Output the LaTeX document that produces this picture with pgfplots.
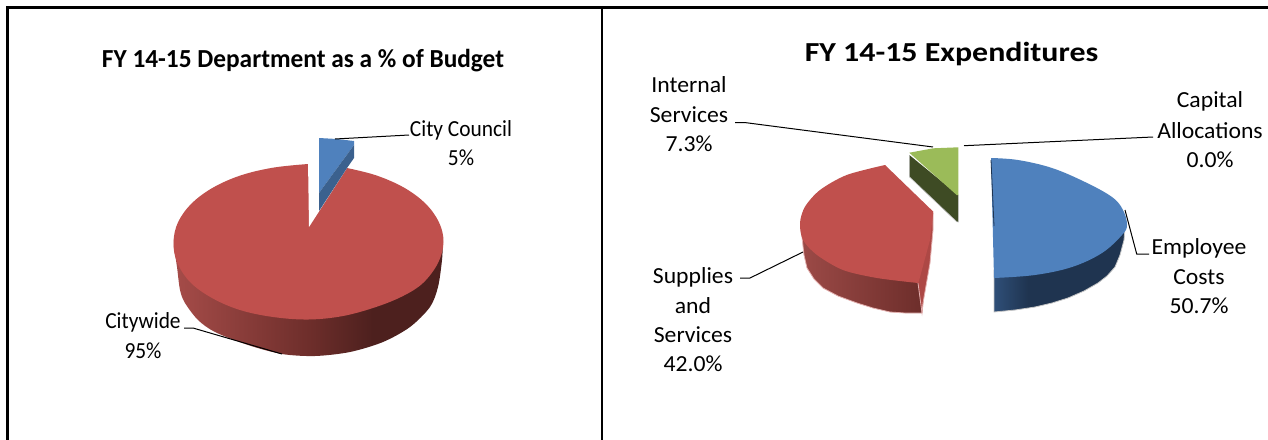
\documentclass[border=0pt]{standalone}
\usepackage{fontspec}
\setmainfont{Carlito}
\newfontfamily\wide[FakeStretch=1.03]{Carlito}
\newfontfamily\narrow[FakeStretch=0.93]{Carlito}
\newfontfamily\titleL[FakeStretch=0.975]{Carlito}
\newfontfamily\titleR[FakeStretch=1.16]{Carlito}
\usepackage{pgfplots}
\pgfplotsset{compat=1.18}
\definecolor{pred}{HTML}{C0504D}
\definecolor{pblue}{HTML}{4F81BD}
\definecolor{pgreen}{HTML}{9BBB59}
\definecolor{ra}{HTML}{A64C49}
\definecolor{rb}{HTML}{6E2E2B}
\definecolor{rc}{HTML}{4D201E}
\definecolor{rd}{HTML}{9C4A47}
\definecolor{re}{HTML}{6C2D2A}
\definecolor{ba}{HTML}{2F4F78}
\definecolor{bb}{HTML}{1F3450}
\pgfdeclarehorizontalshading{redside}{100bp}{color(0bp)=(ra); color(25bp)=(ra); color(50bp)=(rb); color(62bp)=(rc); color(100bp)=(rc)}
\pgfdeclarehorizontalshading{blueside}{100bp}{color(0bp)=(ba); color(25bp)=(ba); color(38bp)=(bb); color(100bp)=(bb)}
\tikzset{lbl/.style={anchor=base,inner sep=0pt,font=\fontsize{23}{28}\selectfont}}
\begin{document}
\begin{tikzpicture}[x=1pt,y=1pt]
\useasboundingbox (0,0) rectangle (1268,439);
\begin{axis}[at={(0,0)},anchor=south west,scale only axis,width=1268pt,height=439pt,
  xmin=0,xmax=1268,ymin=0,ymax=439,y dir=reverse,hide axis,clip=false,
  every axis plot/.append style={forget plot,no markers}]
% frame
\addplot[black,line width=2.2pt] coordinates {(7.5,445) (7.5,7.5) (1275,7.5)};
\addplot[black,line width=1.6pt] coordinates {(602,7.5) (602,445)};
% ---- left pie: side
\addplot[draw=none,smooth,shade,shading=redside] coordinates {
 (174,240) (174,247) (177,267) (180,290) (185,303) (198,320) (215,332) (248,345) (282,354) (315,356) (350,352) (383,342) (410,327) (430,307) (438,287) (442,260) (443,240)};
% top face
\addplot[fill=pred,draw=none,smooth,tension=0.6] coordinates {
 (347,168) (376,175.3) (404,187.6) (425.4,203.5) (438.9,222.1) (443.5,242) (438,263) (423,283) (403,296) (376,307) (343,316) (308.5,319.5) (273,317) (240,310) (212,298) (190,282) (177,262) (173.5,242) (178.1,222.1) (191.6,203.5) (213,187.6) (241,175.3) (273.5,167.6) (308,164)};
% notch
\addplot[fill=white,draw=none] coordinates {(308,160) (309,227) (347,168) (347,160)};
% blue slice
\addplot[fill=pblue,draw=none] coordinates {(319,138) (337,139) (354,141) (354,145) (319,193)};
\addplot[fill=pblue!75!black,draw=none] coordinates {(354,145) (354,158) (347,168) (319,211) (319,193)};
% leaders
\addplot[black,line width=1pt] coordinates {(335,139) (409,135)};
\addplot[black,line width=1pt] coordinates {(184,328) (193,328) (282,354)};
% ---- right pie: blue
\addplot[draw=gray!45,line width=0.8pt,shade,shading=blueside] coordinates {
 (1125,228) (1124,240) (1120,255) (1115,267) (1107,276) (1098,283) (1084,291) (1068,298) (1052,303) (1035,307) (1015,310) (994,312) (994,270) (1100,230)};
\addplot[fill=pblue,draw=none,smooth,tension=0.6] coordinates {
 (991,158) (1018,160) (1052,168) (1085,182) (1112,197) (1123,210) (1127,225) (1122,235) (1102,253) (1072,267) (1035,275) (994,278)};
\addplot[bb,line width=0.8pt] coordinates {(991,160) (994,226)};
% red
\addplot[draw=pred!45!white,line width=0.8pt,left color=rd,right color=re] coordinates {
 (801,225) (802,237) (804,255) (807,268) (814,279) (823,288) (838,296) (857,303) (873,308) (890,312) (905,313) (922,313) (925,283) (830,230)};
\addplot[fill=pred!90!black,draw=pred!45!white,line width=0.8pt] coordinates {(933,213) (933,230) (930,263) (923,303) (922,313) (918,283)};
\addplot[fill=pred,draw=none,smooth,tension=0.5] coordinates {
 (885,165) (846.7,175) (820,190) (805,206.7) (800,223) (803,240) (817,255) (843,270) (877,278) (918,283)};
\addplot[fill=pred,draw=none] coordinates {(885,165) (933.3,211.7) (930,240) (918.3,283.3) (860,240)};
% green
\addplot[fill=black!60!pgreen,draw=gray!50,line width=0.6pt] coordinates {(909.3,155) (909.3,176.7) (956.7,221.7) (958.3,222) (958.3,195)};
\addplot[fill=pgreen,draw=none] coordinates {(909.3,152.7) (933.3,148.3) (958.3,147.3) (958.3,195) (956.7,195)};
% leaders
\addplot[black,line width=1pt] coordinates {(735,122.7) (746,122.7) (933,147)};
\addplot[black,line width=1pt] coordinates {(964,145.7) (1153,137)};
\addplot[black,line width=1pt] coordinates {(1125,210) (1136.7,254) (1149,254)};
\addplot[black,line width=1pt] coordinates {(740,278) (750,278) (803,252)};
% text
\node[anchor=base,inner sep=0pt] at (axis cs:303,67) {\fontsize{26}{30}\selectfont\titleL\bfseries FY 14-15 Department as a \% of Budget};
\node[anchor=base,inner sep=0pt] at (axis cs:951.5,61) {\fontsize{27.5}{30}\selectfont\titleR\bfseries FY 14-15 Expenditures};
\node[lbl] at (axis cs:461,136) {\narrow City Council};
\node[lbl] at (axis cs:461,165) {\narrow 5\%};
\node[lbl] at (axis cs:143,328) {\narrow Citywide};
\node[lbl] at (axis cs:143,358) {\narrow 95\%};
\node[lbl] at (axis cs:689,92) {\wide Internal};
\node[lbl] at (axis cs:689,122) {\wide Services};
\node[lbl] at (axis cs:689,151) {\wide 7.3\%};
\node[lbl] at (axis cs:1210,107) {\wide Capital};
\node[lbl] at (axis cs:1210,138) {\wide Allocations};
\node[lbl] at (axis cs:1210,167) {\wide 0.0\%};
\node[lbl] at (axis cs:1199,254) {\wide Employee};
\node[lbl] at (axis cs:1199,284) {\wide Costs};
\node[lbl] at (axis cs:1199,313) {\wide 50.7\%};
\node[lbl] at (axis cs:693,283) {\wide Supplies};
\node[lbl] at (axis cs:693,313) {\wide and};
\node[lbl] at (axis cs:693,342) {\wide Services};
\node[lbl] at (axis cs:693,371) {\wide 42.0\%};
\end{axis}
\end{tikzpicture}
\end{document}
